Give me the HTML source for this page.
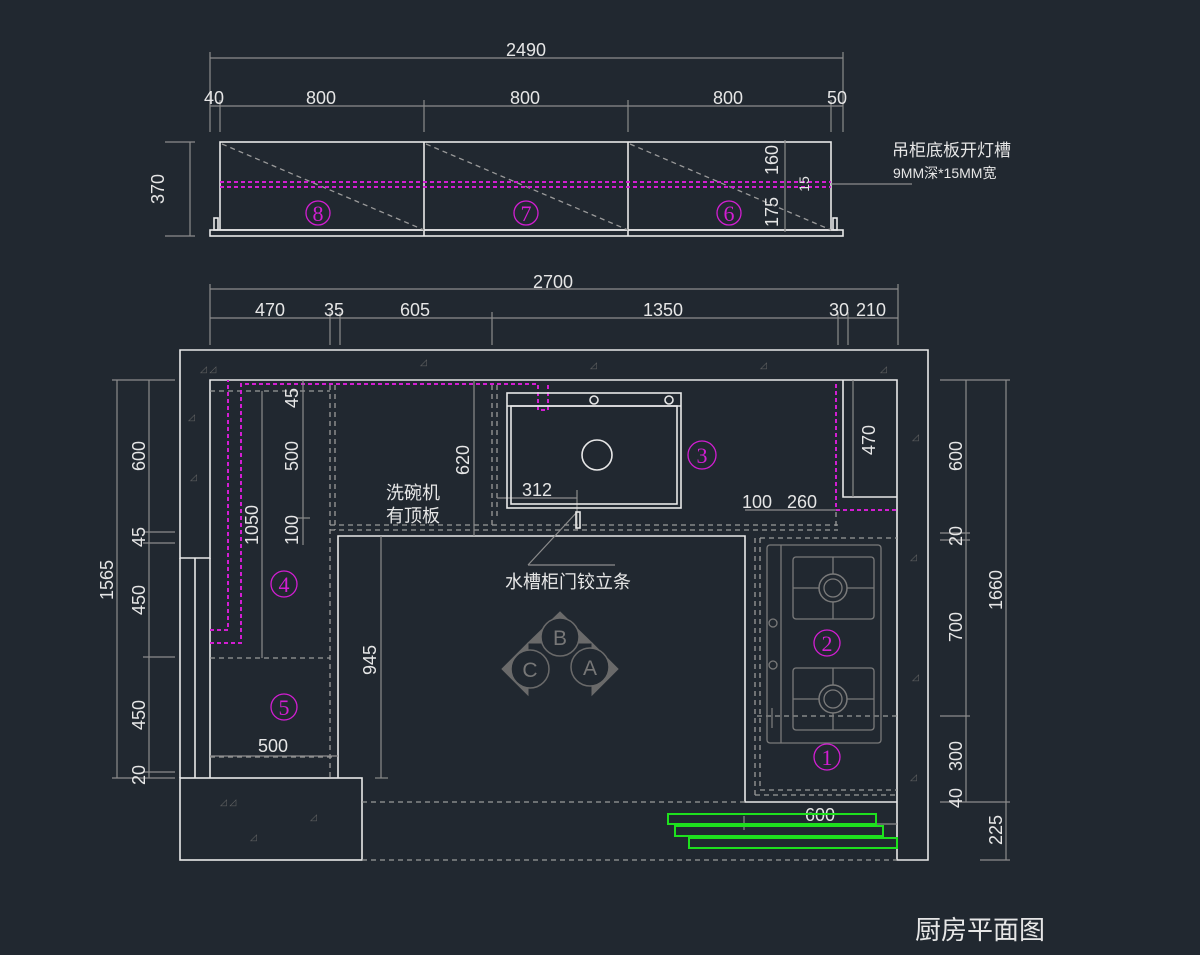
<!DOCTYPE html>
<html><head><meta charset="utf-8"><style>
html,body{margin:0;padding:0;background:#212830;}
svg{display:block}
text{font-family:"Liberation Sans","Noto Sans CJK SC",sans-serif;fill:#e6e6e6;}
.d{stroke:#8c8c8c;stroke-width:1.2;fill:none}
.w{stroke:#e8e8e8;stroke-width:1.6;fill:none}
.g{stroke:#9a9a9a;stroke-width:1.3;fill:none;stroke-dasharray:5 4}
.m{stroke:#d21ed2;stroke-width:2;fill:none;stroke-dasharray:4 3}
.mc{stroke:#d21ed2;stroke-width:1.3;fill:none}
.mt{fill:#d21ed2;font-family:"Liberation Serif",serif;font-size:22px}
.s{stroke:#7a7a7a;stroke-width:1.3;fill:none}
</style></head><body>
<svg width="1200" height="955" viewBox="0 0 1200 955">
<!-- top elevation -->
<g font-size="18">
<line class="d" x1="210" y1="58" x2="843" y2="58"/>
<line class="d" x1="210" y1="52" x2="210" y2="132"/><line class="d" x1="843" y1="52" x2="843" y2="132"/>
<text x="526" y="56" text-anchor="middle">2490</text>
<line class="d" x1="210" y1="106" x2="843" y2="106"/>
<line class="d" x1="220" y1="100" x2="220" y2="132"/><line class="d" x1="424" y1="100" x2="424" y2="132"/><line class="d" x1="628" y1="100" x2="628" y2="132"/><line class="d" x1="831" y1="100" x2="831" y2="132"/>
<text x="214" y="104" text-anchor="middle">40</text><text x="321" y="104" text-anchor="middle">800</text><text x="525" y="104" text-anchor="middle">800</text><text x="728" y="104" text-anchor="middle">800</text><text x="837" y="104" text-anchor="middle">50</text>
<line class="d" x1="190" y1="142" x2="190" y2="236"/><line class="d" x1="165" y1="142" x2="195" y2="142"/><line class="d" x1="165" y1="236" x2="195" y2="236"/>
<text transform="translate(164,189) rotate(-90)" text-anchor="middle">370</text>
</g>
<rect class="w" x="220" y="142" width="611" height="88"/>
<rect class="w" x="210" y="230" width="633" height="6"/>
<line class="w" x1="424" y1="142" x2="424" y2="236"/><line class="w" x1="628" y1="142" x2="628" y2="236"/>
<rect class="w" x="214" y="218" width="4" height="12"/><rect class="w" x="833" y="218" width="4" height="12"/>
<g class="g" stroke-dasharray="3 3"><line x1="222" y1="144" x2="424" y2="230"/><line x1="426" y1="144" x2="628" y2="230"/><line x1="630" y1="144" x2="831" y2="230"/></g>
<line class="m" x1="220" y1="182" x2="831" y2="182"/><line class="m" x1="220" y1="187" x2="831" y2="187"/>
<line class="d" x1="785" y1="140" x2="785" y2="232"/>
<line class="d" x1="831" y1="184" x2="912" y2="184"/>
<g font-size="18"><text transform="translate(778,160) rotate(-90)" text-anchor="middle">160</text>
<text transform="translate(778,212) rotate(-90)" text-anchor="middle">175</text>
<text transform="translate(809,184) rotate(-90)" text-anchor="middle" font-size="14">15</text></g>
<text x="892" y="156" font-size="17">吊柜底板开灯槽</text>
<text x="893" y="178" font-size="14">9MM深*15MM宽</text>
<g font-size="24"><circle class="mc" cx="318" cy="213" r="12"/><text class="mt" x="318" y="221" text-anchor="middle">8</text>
<circle class="mc" cx="526" cy="213" r="12"/><text class="mt" x="526" y="221" text-anchor="middle">7</text>
<circle class="mc" cx="729" cy="213" r="12"/><text class="mt" x="729" y="221" text-anchor="middle">6</text></g>

<!-- plan dims top -->
<g font-size="18">
<line class="d" x1="210" y1="289" x2="898" y2="289"/><line class="d" x1="210" y1="284" x2="210" y2="345"/><line class="d" x1="898" y1="284" x2="898" y2="345"/>
<text x="553" y="288" text-anchor="middle">2700</text>
<line class="d" x1="210" y1="318" x2="898" y2="318"/>
<line class="d" x1="330" y1="312" x2="330" y2="345"/><line class="d" x1="340" y1="312" x2="340" y2="345"/><line class="d" x1="492" y1="312" x2="492" y2="345"/><line class="d" x1="838" y1="312" x2="838" y2="345"/><line class="d" x1="848" y1="312" x2="848" y2="345"/>
<text x="270" y="316" text-anchor="middle">470</text><text x="334" y="316" text-anchor="middle">35</text><text x="415" y="316" text-anchor="middle">605</text><text x="663" y="316" text-anchor="middle">1350</text><text x="839" y="316" text-anchor="middle">30</text><text x="871" y="316" text-anchor="middle">210</text>
<!-- left dims -->
<line class="d" x1="117" y1="380" x2="117" y2="778"/><line class="d" x1="149" y1="380" x2="149" y2="778"/>
<line class="d" x1="112" y1="380" x2="175" y2="380"/><line class="d" x1="112" y1="778" x2="175" y2="778"/>
<line class="d" x1="143" y1="532" x2="175" y2="532"/><line class="d" x1="143" y1="543" x2="175" y2="543"/><line class="d" x1="143" y1="657" x2="175" y2="657"/><line class="d" x1="143" y1="772" x2="175" y2="772"/>
<text transform="translate(113,580) rotate(-90)" text-anchor="middle">1565</text>
<text transform="translate(145,456) rotate(-90)" text-anchor="middle">600</text>
<text transform="translate(145,537) rotate(-90)" text-anchor="middle">45</text>
<text transform="translate(145,600) rotate(-90)" text-anchor="middle">450</text>
<text transform="translate(145,715) rotate(-90)" text-anchor="middle">450</text>
<text transform="translate(145,775) rotate(-90)" text-anchor="middle">20</text>
<!-- right dims -->
<line class="d" x1="966" y1="380" x2="966" y2="802"/><line class="d" x1="1006" y1="380" x2="1006" y2="860"/>
<line class="d" x1="940" y1="380" x2="1010" y2="380"/><line class="d" x1="940" y1="533" x2="970" y2="533"/><line class="d" x1="940" y1="540" x2="970" y2="540"/><line class="d" x1="940" y1="716" x2="970" y2="716"/><line class="d" x1="940" y1="802" x2="1010" y2="802"/><line class="d" x1="980" y1="860" x2="1010" y2="860"/>
<text transform="translate(962,456) rotate(-90)" text-anchor="middle">600</text>
<text transform="translate(962,536) rotate(-90)" text-anchor="middle">20</text>
<text transform="translate(962,627) rotate(-90)" text-anchor="middle">700</text>
<text transform="translate(962,756) rotate(-90)" text-anchor="middle">300</text>
<text transform="translate(962,798) rotate(-90)" text-anchor="middle">40</text>
<text transform="translate(1002,590) rotate(-90)" text-anchor="middle">1660</text>
<text transform="translate(1002,830) rotate(-90)" text-anchor="middle">225</text>
</g>

<!-- walls -->
<path class="w" d="M180 350 H928 V860 H897 V380 H210 V558 H180 Z"/>
<line class="w" x1="180" y1="558" x2="180" y2="778"/><line class="w" x1="195" y1="558" x2="195" y2="778"/><line class="w" x1="210" y1="558" x2="210" y2="778"/>
<rect class="w" x="180" y="778" width="182" height="82"/>
<path class="w" d="M843 380 V497 H897"/>
<!-- wall specks -->
<g fill="#6a6a6a" font-size="9">
<text x="200" y="372" style="fill:#666">◿ ◿</text><text x="420" y="365" style="fill:#666">◿</text><text x="590" y="368" style="fill:#666">◿</text><text x="760" y="368" style="fill:#666">◿</text><text x="880" y="372" style="fill:#666">◿</text>
<text x="188" y="420" style="fill:#666">◿</text><text x="190" y="480" style="fill:#666">◿</text><text x="912" y="440" style="fill:#666">◿</text><text x="910" y="560" style="fill:#666">◿</text><text x="912" y="680" style="fill:#666">◿</text><text x="910" y="780" style="fill:#666">◿</text>
<text x="220" y="805" style="fill:#666">◿ ◿</text><text x="310" y="820" style="fill:#666">◿</text><text x="250" y="840" style="fill:#666">◿</text>
</g>
<!-- counter fronts -->
<path class="w" d="M338 778 V536 H745 V802 H897"/>
<!-- dashed -->
<g class="g">
<line x1="362" y1="802" x2="745" y2="802"/><line x1="362" y1="860" x2="897" y2="860"/>
<line x1="330" y1="385" x2="330" y2="778"/><line x1="335" y1="385" x2="335" y2="530"/>
<line x1="330" y1="525" x2="838" y2="525"/><line x1="330" y1="530" x2="838" y2="530"/>
<line x1="210" y1="391" x2="330" y2="391"/>
<line x1="210" y1="658" x2="330" y2="658"/><line x1="210" y1="757" x2="335" y2="757"/>
<line x1="492" y1="385" x2="492" y2="525"/><line x1="497" y1="385" x2="497" y2="520"/>
<line x1="836" y1="512" x2="836" y2="530"/>
<line x1="755" y1="538" x2="755" y2="795"/><line x1="760" y1="538" x2="760" y2="790"/>
<line x1="760" y1="538" x2="897" y2="538"/><line x1="760" y1="790" x2="897" y2="790"/><line x1="755" y1="795" x2="897" y2="795"/>
<line x1="757" y1="716" x2="897" y2="716"/>
</g>
<!-- magenta -->
<path class="m" d="M210 630 H228 V380"/>
<path class="m" d="M210 643 H241 V384 H538 V410 H548 V384"/>
<path class="m" d="M836 384 V510 H897"/>
<!-- inner dims -->
<g class="d"><line x1="262" y1="391" x2="262" y2="658"/><line x1="303" y1="380" x2="303" y2="545"/><line x1="296" y1="518" x2="310" y2="518"/>
<line x1="474" y1="380" x2="474" y2="536"/><line x1="381" y1="536" x2="381" y2="778"/><line x1="375" y1="778" x2="388" y2="778"/>
<line x1="210" y1="756" x2="338" y2="756"/><line x1="497" y1="498" x2="577" y2="498"/><line x1="577" y1="490" x2="577" y2="530"/>
<line x1="745" y1="510" x2="836" y2="510"/><line x1="744" y1="824" x2="897" y2="824"/><line x1="744" y1="816" x2="744" y2="830"/>
<line x1="577" y1="512" x2="528" y2="565"/><line x1="528" y1="565" x2="615" y2="565"/></g>
<rect class="w" x="576" y="512" width="4" height="16" stroke-width="1.2"/>
<g font-size="18">
<text transform="translate(298,398) rotate(-90)" text-anchor="middle">45</text>
<text transform="translate(298,456) rotate(-90)" text-anchor="middle">500</text>
<text transform="translate(298,530) rotate(-90)" text-anchor="middle">100</text>
<text transform="translate(258,525) rotate(-90)" text-anchor="middle">1050</text>
<text transform="translate(469,460) rotate(-90)" text-anchor="middle">620</text>
<text transform="translate(376,660) rotate(-90)" text-anchor="middle">945</text>
<text x="273" y="752" text-anchor="middle">500</text>
<text x="537" y="496" text-anchor="middle">312</text>
<text x="757" y="508" text-anchor="middle">100</text><text x="802" y="508" text-anchor="middle">260</text>
<rect x="800" y="806" width="42" height="18" fill="#212830"/>
<text x="820" y="821" text-anchor="middle">600</text>
<text x="863" y="452" transform="rotate(-90,863,440)" text-anchor="middle">470</text>
<text x="413" y="499" text-anchor="middle">洗碗机</text><text x="413" y="522" text-anchor="middle">有顶板</text>
<text x="568" y="588" text-anchor="middle">水槽柜门铰立条</text>
</g>
<line class="d" x1="853" y1="380" x2="853" y2="497"/>
<!-- sink -->
<rect class="w" x="507" y="393" width="174" height="115"/>
<rect class="w" x="511" y="406" width="166" height="98"/>
<line class="w" x1="507" y1="406" x2="681" y2="406"/>
<circle class="w" cx="594" cy="400" r="4"/><circle class="w" cx="669" cy="400" r="4"/>
<circle class="w" cx="597" cy="455" r="15"/>
<!-- stove -->
<rect class="s" x="767" y="545" width="114" height="198" rx="3"/>
<line class="s" x1="781" y1="545" x2="781" y2="743"/>
<rect class="s" x="793" y="557" width="81" height="62" rx="3"/><rect class="s" x="793" y="668" width="81" height="62" rx="3"/>
<g class="s"><line x1="833" y1="557" x2="833" y2="619"/><line x1="793" y1="588" x2="874" y2="588"/><line x1="833" y1="668" x2="833" y2="730"/><line x1="793" y1="699" x2="874" y2="699"/></g>
<circle cx="833" cy="588" r="14" fill="#212830" stroke="#7a7a7a" stroke-width="1.5"/><circle class="s" cx="833" cy="588" r="9"/>
<circle cx="833" cy="699" r="14" fill="#212830" stroke="#7a7a7a" stroke-width="1.5"/><circle class="s" cx="833" cy="699" r="9"/>
<circle class="s" cx="773" cy="623" r="4"/><circle class="s" cx="773" cy="665" r="4"/><line class="s" x1="772" y1="708" x2="772" y2="728" stroke-width="3"/>
<!-- green -->
<g stroke="#1ee01e" stroke-width="2" fill="none"><rect x="668" y="814" width="208" height="10"/><rect x="675" y="826" width="208" height="10"/><rect x="689" y="838" width="208" height="10"/></g>
<!-- ABC -->
<g fill="#6a6a6a" stroke="#6a6a6a">
<polygon points="560,612 528,643 592,643"/><polygon points="502,669 528,643 528,695"/><polygon points="618,669 592,643 592,695"/>
</g>
<g fill="#212830" stroke="#6a6a6a" stroke-width="1.5"><circle cx="560" cy="637" r="19"/><circle cx="530" cy="669" r="19"/><circle cx="590" cy="667" r="19"/></g>
<g font-family="Liberation Serif,serif" font-size="21" text-anchor="middle"><text x="560" y="645" style="fill:#777">B</text><text x="530" y="677" style="fill:#777">C</text><text x="590" y="675" style="fill:#777">A</text></g>
<!-- magenta circles plan -->
<g><circle class="mc" cx="284" cy="584" r="13"/><text class="mt" x="284" y="592" text-anchor="middle">4</text>
<circle class="mc" cx="284" cy="707" r="13"/><text class="mt" x="284" y="715" text-anchor="middle">5</text>
<circle class="mc" cx="702" cy="455" r="14"/><text class="mt" x="702" y="463" text-anchor="middle">3</text>
<circle class="mc" cx="827" cy="643" r="13"/><text class="mt" x="827" y="651" text-anchor="middle">2</text>
<circle class="mc" cx="827" cy="757" r="13"/><text class="mt" x="827" y="765" text-anchor="middle">1</text></g>
<text x="980" y="939" font-size="26" text-anchor="middle" style="font-family:'Noto Sans CJK SC',sans-serif">厨房平面图</text>
</svg>
</body></html>
